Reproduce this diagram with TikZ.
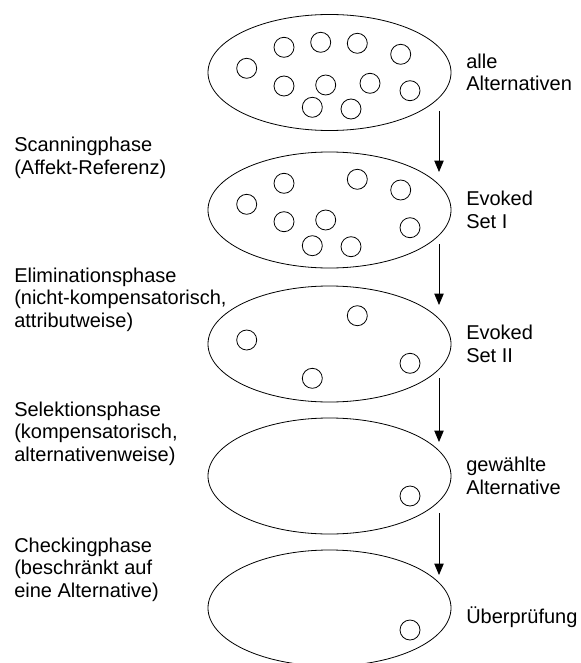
\documentclass[tikz,border=0pt]{standalone}
\usepackage{fontspec}
\setmainfont{Liberation Sans}
\usetikzlibrary{shapes.geometric,arrows.meta}
\begin{document}
\begin{tikzpicture}[x=0.75pt,y=-0.75pt,
  setell/.style={draw,ellipse,line width=0.6pt,minimum width=182.25pt,minimum height=87pt,inner sep=0pt},
  alt/.style={draw,circle,line width=0.6pt,minimum size=15pt,inner sep=0pt},
  arr/.style={line width=0.6pt,-{Triangle[width=7pt,length=8.5pt]}},
  lbl/.style={align=left,inner sep=0pt,font=\fontsize{15}{16.9}\selectfont}]
\useasboundingbox (0,0) rectangle (581,663);
% sets
\node[setell] (e1) at (329.5,72.5) {};
\node[setell] (e2) at (329.5,210) {};
\node[setell] (e3) at (329.5,344) {};
\node[setell] (e4) at (329.5,476) {};
\node[setell] (e5) at (329.5,608) {};
% alternatives in set 1
\node[alt] (a1) at (246.7,68.3) {};
\node[alt] (a2) at (284,47.3) {};
\node[alt] (a3) at (320.7,42.3) {};
\node[alt] (a4) at (357.3,43.3) {};
\node[alt] (a5) at (400.7,54.3) {};
\node[alt] (a6) at (284,86) {};
\node[alt] (a7) at (325.7,85) {};
\node[alt] (a8) at (370,83.3) {};
\node[alt] (a9) at (410,90.7) {};
\node[alt] (a10) at (312.3,107.3) {};
\node[alt] (a11) at (351,109) {};
% set 2
\node[alt] (b1) at (246.7,204.3) {};
\node[alt] (b2) at (284,183.3) {};
\node[alt] (b3) at (357.3,179.3) {};
\node[alt] (b4) at (400.7,190) {};
\node[alt] (b5) at (284,221.7) {};
\node[alt] (b6) at (325.7,220) {};
\node[alt] (b7) at (410,227.7) {};
\node[alt] (b8) at (312.3,245.7) {};
\node[alt] (b9) at (351,246.7) {};
% set 3
\node[alt] (c1) at (246.7,340) {};
\node[alt] (c2) at (357.3,315.7) {};
\node[alt] (c3) at (410,363.3) {};
\node[alt] (c4) at (312.3,378.3) {};
% set 4, 5
\node[alt] (d1) at (410,496) {};
\node[alt] (f1) at (410,630) {};
% arrows
\coordinate (s1) at (439,111);
\coordinate (t1) at (439,172);
\coordinate (s2) at (439,244);
\coordinate (t2) at (439,305);
\coordinate (s3) at (439,378);
\coordinate (t3) at (439,442);
\coordinate (s4) at (439,513);
\coordinate (t4) at (439,575);
\draw[arr] (s1) -- (t1);
\draw[arr] (s2) -- (t2);
\draw[arr] (s3) -- (t3);
\draw[arr] (s4) -- (t4);
% right labels
\node[lbl,anchor=west] (r1) at (466,72.5) {alle\\Alternativen};
\node[lbl,anchor=west] (r2) at (466,210) {Evoked\\Set I};
\node[lbl,anchor=west] (r3) at (466,344) {Evoked\\Set II};
\node[lbl,anchor=west] (r4) at (466,476) {gewählte\\Alternative};
\node[lbl,anchor=west] (r5) at (466,617) {Überprüfung};
% left labels (base = baseline of last line)
\node[lbl,anchor=base west] (l1) at (14,174.5) {Scanningphase\\(Affekt-Referenz)};
\node[lbl,anchor=base west] (l2) at (14,327.5) {Eliminationsphase\\(nicht-kompensatorisch,\\attributweise)};
\node[lbl,anchor=base west] (l3) at (14,461.5) {Selektionsphase\\(kompensatorisch,\\alternativenweise)};
\node[lbl,anchor=base west] (l4) at (14,597.5) {Checkingphase\\(beschränkt auf\\eine Alternative)};
\end{tikzpicture}
\end{document}
